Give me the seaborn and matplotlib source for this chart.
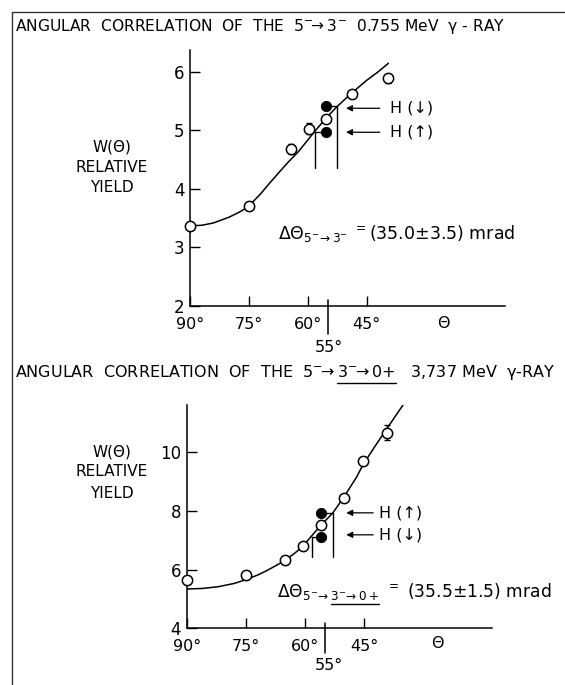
import matplotlib
matplotlib.use('Agg')
import numpy as np
import pandas as pd
import matplotlib.pyplot as plt
from matplotlib.lines import Line2D
import seaborn as sns

# ---- top panel: 5- -> 3-  0.755 MeV gamma ray
top_theta = [90, 75, 64.3, 59.7, 55.4, 48.7, 39.5]
top_w = [3.36, 3.71, 4.68, 5.03, 5.19, 5.63, 5.89]
top_err = [0.06, 0.07, 0.09, 0.09, 0.03, 0.07, 0.07]
top_fit_theta = [90, 87, 84, 80, 77, 75, 72, 70, 67, 65, 62.4, 60, 58.2, 55, 52.7, 50, 48.7, 45, 42, 39.5]
top_fit_w = [3.37, 3.38, 3.42, 3.52, 3.62, 3.71, 3.92, 4.08, 4.31, 4.46, 4.64, 4.84, 4.99, 5.24,
             5.40, 5.57, 5.65, 5.86, 6.01, 6.15]
top_field_theta = 55.3
top_field_w = [5.42, 4.97]          # H(down), H(up)
top_shift_theta = [52.7, 58.2]
top_shift_base = 4.36
top_labels = ['H (↓)', 'H (↑)']
top_delta = r'$\Delta\Theta_{5^{-}\!\rightarrow 3^{-}}$ $^{=}$(35.0$\pm$3.5) mrad'
top_title = r'ANGULAR  CORRELATION  OF  THE  5$^{-}\!\!\rightarrow$3$^{-}$  0.755 MeV  γ - RAY'

# ---- bottom panel: 5- -> 3- -> 0+  3.737 MeV gamma ray
bot_theta = [90, 75, 65.0, 60.6, 56.0, 50.2, 45.3, 39.4]
bot_w = [5.66, 5.81, 6.33, 6.82, 7.52, 8.46, 9.72, 10.68]
bot_err = [0.14, 0.12, 0.08, 0.08, 0.05, 0.12, 0.12, 0.26]
bot_fit_theta = [90, 86, 82, 78, 75, 72, 70, 67, 65, 62.5, 60.6, 58.4, 56, 53, 50.2, 47, 45.3, 42, 39.4, 35.2]
bot_fit_w = [5.34, 5.36, 5.42, 5.53, 5.66, 5.82, 5.95, 6.17, 6.33, 6.58, 6.80, 7.15, 7.52, 7.94,
             8.48, 9.16, 9.60, 10.28, 10.8, 11.63]
bot_field_theta = 56.0
bot_field_w = [7.93, 7.13]
bot_shift_theta = [53.0, 58.4]
bot_shift_base = 6.45
bot_labels = ['H (↑)', 'H (↓)']
# (prefix, prefix + underlined part, rest)
bot_delta = (r'$\Delta\Theta_{5^{-}\!\rightarrow}$',
             r'$\Delta\Theta_{5^{-}\!\rightarrow 3^{-}\!\rightarrow 0+}$',
             r' $^{=}$ (35.5$\pm$1.5) mrad')
bot_title = (r'ANGULAR  CORRELATION  OF  THE  5$^{-}\!\!\rightarrow$',
             r'ANGULAR  CORRELATION  OF  THE  5$^{-}\!\!\rightarrow$3$^{-}\!\!\rightarrow$0+',
             r'   3,737 MeV  γ-RAY')

x_ticks = [90, 75, 60, 45]
x_ticklabels = ['90°', '75°', '60°', '45°']

W, H = 565, 685


def fx(px):
    return px / W


def fy(py):
    return 1 - py / H


sns.set_style('ticks')
plt.rcParams['font.family'] = ['DejaVu Sans']
plt.rcParams['mathtext.fontset'] = 'dejavusans'
plt.rcParams['mathtext.default'] = 'regular'
plt.rcParams['text.color'] = 'black'
plt.rcParams['xtick.color'] = 'black'
plt.rcParams['ytick.color'] = 'black'
plt.rcParams['axes.edgecolor'] = 'black'

fig = plt.figure(figsize=(W / 100, H / 100), dpi=100)
renderer = fig.canvas.get_renderer()


def panel(rect, xlim, ylim, yticks, theta, w, err, fit_t, fit_w,
          f_t, f_w, s_t, s_base, labels, arrow_x, text_x, arrow_y):
    ax = fig.add_axes(rect)
    sns.lineplot(x=fit_t, y=fit_w, ax=ax, color='black', lw=1.1, sort=False)
    ax.errorbar(theta, w, yerr=err, fmt='none', ecolor='black', elinewidth=1,
                capsize=2.5, capthick=1, clip_on=False, zorder=3)
    pts = pd.DataFrame({'theta': theta, 'w': w})
    sns.scatterplot(data=pts, x='theta', y='w', ax=ax, s=55, marker='o',
                    facecolor='white', edgecolor='black', linewidth=1.1,
                    zorder=4, clip_on=False)
    fld = pd.DataFrame({'theta': [f_t, f_t], 'w': f_w})
    sns.scatterplot(data=fld, x='theta', y='w', ax=ax, s=55, color='black',
                    edgecolor='black', zorder=4)
    # shift construction: field point -> curve -> down
    for st, fw in zip(s_t, f_w):
        ax.plot([f_t, st], [fw, fw], color='black', lw=1)
        ax.plot([st, st], [s_base, fw], color='black', lw=1)
    for lab, ay in zip(labels, arrow_y):
        ax.annotate('', xy=(arrow_x[1], ay), xytext=(arrow_x[0], ay),
                    arrowprops=dict(arrowstyle='-|>', color='black', lw=0.9,
                                    mutation_scale=9, shrinkA=0, shrinkB=0))
        ax.text(text_x, ay, lab, fontsize=11.5, va='center', ha='left')
    ax.set_xlim(*xlim)
    ax.set_ylim(*ylim)
    ax.set_xticks(x_ticks)
    ax.set_xticklabels(x_ticklabels)
    ax.set_yticks(yticks)
    ax.set_xlabel('')
    ax.set_ylabel('')
    ax.tick_params(direction='in', length=7, width=1, labelsize=12, pad=4)
    ax.tick_params(axis='x', labelsize=11.5, pad=8)
    sns.despine(ax=ax)
    for sp in ax.spines.values():
        sp.set_linewidth(1.1)
    # long 55 degree mark crossing the axis
    ax.plot([55, 55], [-0.11, 0.025], transform=ax.get_xaxis_transform(),
            color='black', lw=1.1, clip_on=False)
    return ax


def text_width(s, size):
    t = fig.text(0, 0, s, fontsize=size)
    bb = t.get_window_extent(renderer)
    t.remove()
    return bb


def underlined_text(x_px, y_px, parts, size, gap=3):
    """Draw prefix+part+rest and underline the part that follows prefix."""
    prefix, full, rest = parts
    t = fig.text(fx(x_px), fy(y_px), full + rest, fontsize=size,
                 ha='left', va='center')
    w0 = text_width(prefix, size).width
    w1 = text_width(full, size).width
    bb = t.get_window_extent(renderer)
    yline = (bb.y0 - gap) / H
    fig.add_artist(Line2D([(bb.x0 + w0 + 2) / W, (bb.x0 + w1) / W],
                          [yline, yline], color='black', lw=1))


ax1 = panel([fx(190), fy(306), fx(505) - fx(190), fy(50) - fy(306)],
            (90, 9.85), (2, 6.376), [2, 3, 4, 5, 6],
            top_theta, top_w, top_err, top_fit_theta, top_fit_w,
            top_field_theta, top_field_w, top_shift_theta, top_shift_base,
            top_labels, (41.7, 50.3), 39.2, [5.38, 4.97])
ax2 = panel([fx(186.7), fy(628.3), fx(491.7) - fx(186.7), fy(405) - fy(628.3)],
            (90, 12.8), (4, 11.62), [4, 6, 8, 10],
            bot_theta, bot_w, bot_err, bot_fit_theta, bot_fit_w,
            bot_field_theta, bot_field_w, bot_shift_theta, bot_shift_base,
            bot_labels, (42.8, 49.6), 41.2, [7.94, 7.19])

# titles, labels and notes
fig.text(fx(15), fy(27), top_title, fontsize=11.2, va='center', ha='left')
underlined_text(15, 372, bot_title, 11.5, gap=1)
for ys in ([146.7, 167, 187], [451.7, 471.7, 493]):
    for txt, yy in zip(['W(Θ)', 'RELATIVE', 'YIELD'], ys):
        fig.text(fx(112), fy(yy), txt, fontsize=11, ha='center', va='center')
fig.text(fx(278), fy(233), top_delta, fontsize=12.5, ha='left', va='center')
underlined_text(277, 592, bot_delta, 12.3, gap=1)
fig.text(fx(443), fy(323), 'Θ', fontsize=11.5, ha='center', va='center')
fig.text(fx(437), fy(643), 'Θ', fontsize=11.5, ha='center', va='center')
fig.text(fx(329), fy(347), '55°', fontsize=11.5, ha='center', va='center')
fig.text(fx(329), fy(666), '55°', fontsize=11.5, ha='center', va='center')

# frame of the scanned figure
fig.add_artist(Line2D([fx(12), fx(12)], [fy(12), fy(685)], color='#333333', lw=1))
fig.add_artist(Line2D([fx(12), fx(565)], [fy(12), fy(12)], color='#333333', lw=1))

fig.savefig('out.png', dpi=100, facecolor='white')
